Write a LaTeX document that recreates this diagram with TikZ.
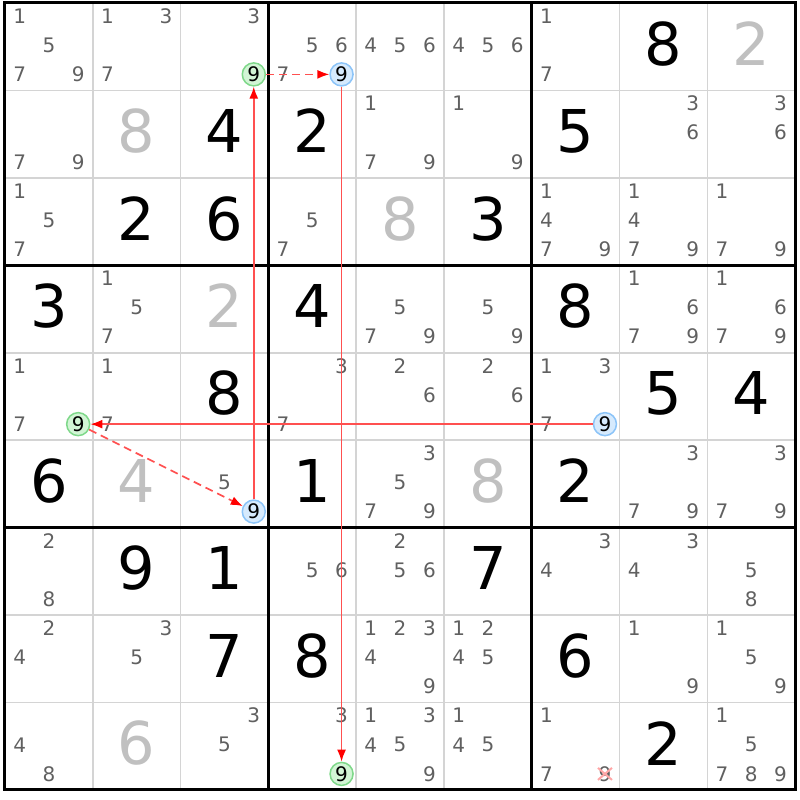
\documentclass[tikz,border=0pt]{standalone}
\usepackage{fontspec}
\setmainfont{DejaVu Sans}
\usetikzlibrary{arrows.meta}

\definecolor{candgray}{HTML}{606060}
\definecolor{solvedgray}{HTML}{C0C0C0}
\definecolor{gridgray}{HTML}{D4D4D4}
\definecolor{ringgreen}{HTML}{7FD88A}
\definecolor{fillgreen}{HTML}{D2F5D5}
\definecolor{ringblue}{HTML}{8CC4F8}
\definecolor{fillblue}{HTML}{D6EAFD}
\definecolor{linkred}{HTML}{FF5050}

\tikzset{
  cand/.style={circle, inner sep=0pt, minimum size=23pt, text=candgray, font=\fontsize{20}{20}\selectfont},
  hlg/.style={draw=ringgreen, fill=fillgreen, text=black, line width=1.5pt},
  hlb/.style={draw=ringblue, fill=fillblue, text=black, line width=1.5pt},
  givendig/.style={inner sep=0pt, font=\fontsize{59}{59}\selectfont},
  solveddig/.style={givendig, text=solvedgray},
  thinline/.style={gridgray, line width=1.5pt},
  boxline/.style={black, line width=3pt},
  strong/.style={linkred, line width=1.7pt, -{Latex[length=12pt,width=9pt,color=red]}},
  weak/.style={strong, dash pattern=on 8pt off 5pt},
  xmark/.style={red!35, line width=2pt}
}

% one candidate: [style]{row}{col}{digit}
\newcommand{\cnd}[4][]{%
  \pgfmathtruncatemacro\candx{mod(#4-1,3)}%
  \pgfmathtruncatemacro\candy{div(#4-1,3)}%
  \node[cand,#1] (n#2#3#4) at ({#3+(2*\candx+1)/6},{#2+(2*\candy+1)/6-0.017}) {#4};}
\newcommand{\cands}[3]{\foreach \dg in {#3} {\cnd{#1}{#2}{\dg}}}
\newcommand{\gvn}[3]{\node[givendig] (g#1#2) at ({#2+0.5},{#1+0.465}) {#3};}
\newcommand{\slvd}[3]{\node[solveddig] (g#1#2) at ({#2+0.5},{#1+0.465}) {#3};}

\begin{document}
\begin{tikzpicture}[x=87.8pt, y=-87.44pt]
\useasboundingbox (-5pt,3pt) rectangle (795pt,-797pt);
% grid
\foreach \i in {1,2,4,5,7,8} {
  \draw[thinline] (\i,0) -- (\i,9);
  \draw[thinline] (0,\i) -- (9,\i);
}
\foreach \i in {3,6} {
  \draw[boxline] (\i,0) -- (\i,9);
  \draw[boxline] (0,\i) -- (9,\i);
}
\draw[boxline] (0,0) rectangle (9,9);

% row 1
\cands{0}{0}{1,5,7,9} \cands{0}{1}{1,3,7} \cands{0}{2}{3} \cnd[hlg]{0}{2}{9}
\cands{0}{3}{5,6,7} \cnd[hlb]{0}{3}{9} \cands{0}{4}{4,5,6} \cands{0}{5}{4,5,6}
\cands{0}{6}{1,7} \gvn{0}{7}{8} \slvd{0}{8}{2}
% row 2
\cands{1}{0}{7,9} \slvd{1}{1}{8} \gvn{1}{2}{4} \gvn{1}{3}{2} \cands{1}{4}{1,7,9}
\cands{1}{5}{1,9} \gvn{1}{6}{5} \cands{1}{7}{3,6} \cands{1}{8}{3,6}
% row 3
\cands{2}{0}{1,5,7} \gvn{2}{1}{2} \gvn{2}{2}{6} \cands{2}{3}{5,7} \slvd{2}{4}{8}
\gvn{2}{5}{3} \cands{2}{6}{1,4,7,9} \cands{2}{7}{1,4,7,9} \cands{2}{8}{1,7,9}
% row 4
\gvn{3}{0}{3} \cands{3}{1}{1,5,7} \slvd{3}{2}{2} \gvn{3}{3}{4} \cands{3}{4}{5,7,9}
\cands{3}{5}{5,9} \gvn{3}{6}{8} \cands{3}{7}{1,6,7,9} \cands{3}{8}{1,6,7,9}
% row 5
\cands{4}{0}{1,7} \cnd[hlg]{4}{0}{9} \cands{4}{1}{1,7} \gvn{4}{2}{8} \cands{4}{3}{3,7}
\cands{4}{4}{2,6} \cands{4}{5}{2,6} \cands{4}{6}{1,3,7} \cnd[hlb]{4}{6}{9}
\gvn{4}{7}{5} \gvn{4}{8}{4}
% row 6
\gvn{5}{0}{6} \slvd{5}{1}{4} \cands{5}{2}{5} \cnd[hlb]{5}{2}{9} \gvn{5}{3}{1}
\cands{5}{4}{3,5,7,9} \slvd{5}{5}{8} \gvn{5}{6}{2} \cands{5}{7}{3,7,9} \cands{5}{8}{3,7,9}
% row 7
\cands{6}{0}{2,8} \gvn{6}{1}{9} \gvn{6}{2}{1} \cands{6}{3}{5,6} \cands{6}{4}{2,5,6}
\gvn{6}{5}{7} \cands{6}{6}{3,4} \cands{6}{7}{3,4} \cands{6}{8}{5,8}
% row 8
\cands{7}{0}{2,4} \cands{7}{1}{3,5} \gvn{7}{2}{7} \gvn{7}{3}{8} \cands{7}{4}{1,2,3,4,9}
\cands{7}{5}{1,2,4,5} \gvn{7}{6}{6} \cands{7}{7}{1,9} \cands{7}{8}{1,5,9}
% row 9
\cands{8}{0}{4,8} \slvd{8}{1}{6} \cands{8}{2}{3,5} \cands{8}{3}{3} \cnd[hlg]{8}{3}{9}
\cands{8}{4}{1,3,4,5,9} \cands{8}{5}{1,4,5} \cands{8}{6}{1,7,9} \gvn{8}{7}{2}
\cands{8}{8}{1,5,7,8,9}

% chain
\draw[strong] (n529) -- (n029);
\draw[weak] (n029) -- (n039);
\draw[strong] (n039) -- (n839);
\draw[strong] (n469) -- (n409);
\draw[weak] (n409) -- (n529);
\draw[xmark] (n869.center) +(-7pt,-6pt) -- +(7pt,6pt) +(-7pt,6pt) -- +(7pt,-6pt);
\end{tikzpicture}
\end{document}
